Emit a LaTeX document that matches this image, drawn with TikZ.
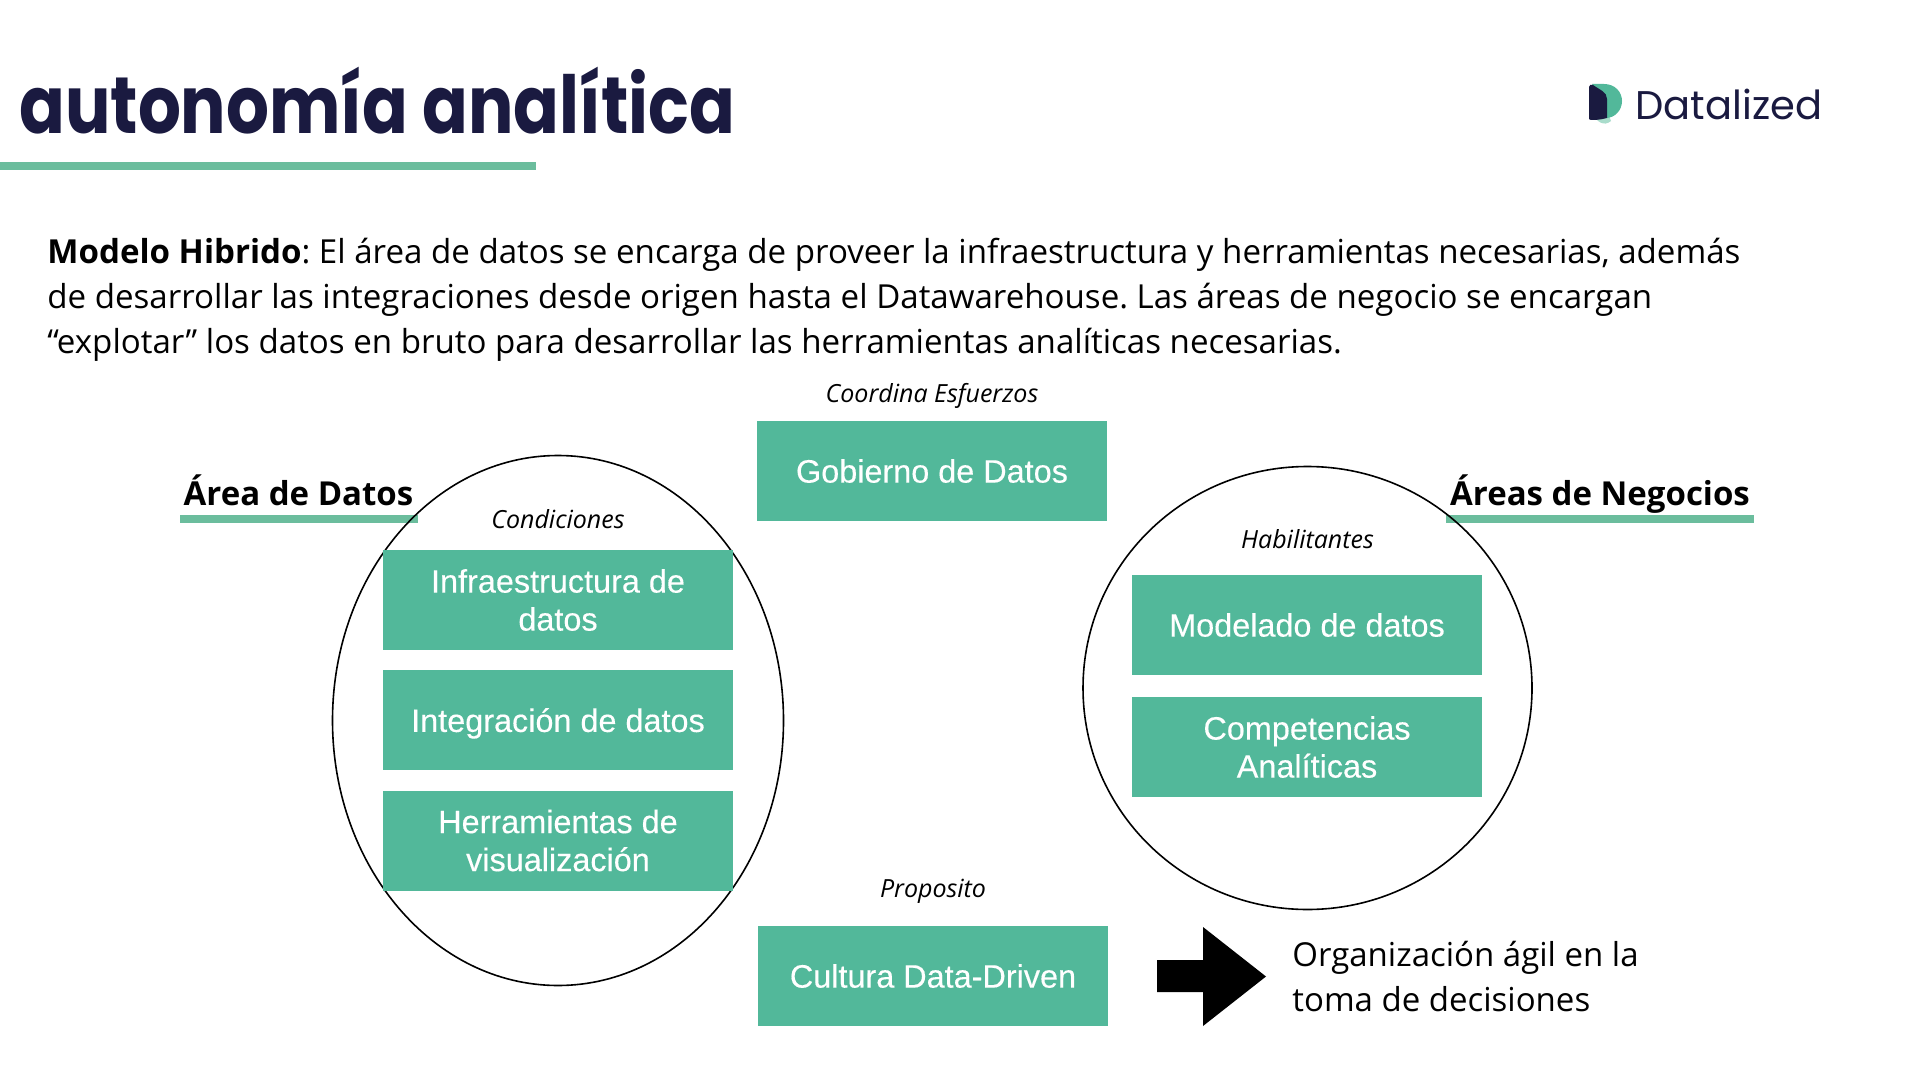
\documentclass[tikz,border=0pt]{standalone}
\usepackage{fontspec}
\usepackage{xcolor}
\setmainfont{Open Sans}
\newfontfamily\boxfont[FakeBold=0.25]{Liberation Sans}
\newfontfamily\brandfont{Poppins}
\newfontfamily\titlefont[FakeStretch=0.843]{Poppins}
\usetikzlibrary{
    positioning
}
\definecolor{verde}{HTML}{52B89A}
\definecolor{verdebar}{HTML}{6BBD9D}
\definecolor{verdeclaro}{HTML}{A9DCCB}
\definecolor{navy}{HTML}{1A1A40}
\newcommand{\boxtext}{\boxfont\fontsize{16.2}{19}\selectfont}
\newcommand{\notetext}{\fontsize{12.5}{15}\selectfont\itshape}
\tikzset{
    areabox/.style={fill=verde, text=white, minimum width=175pt, minimum height=50pt, inner sep=0pt, align=center, font=\boxtext},
    ring/.style={draw=black, line width=0.8pt},
    note/.style={inner sep=0pt, font=\notetext},
    bar/.style={fill=verdebar},
    areatitle/.style={anchor=base, inner sep=0pt, font=\fontsize{16.5}{20}\selectfont\bfseries}
}

\begin{document}
\frenchspacing
\begin{tikzpicture}[x=0.5pt, y=-0.5pt]
    \useasboundingbox (0, 0) rectangle (1920, 1080);

    % header
    \node[anchor=base west, inner sep=0pt, text=navy, font=\titlefont\fontsize{40}{44}\selectfont\bfseries] (titulo) at (19, 134) {autonomía analítica};
    \fill[bar] (0, 162) rectangle (536, 170);

    % logo
    \fill[verdeclaro] (1592, 112) .. controls (1596, 122) and (1604, 127) .. (1611, 121) -- (1606, 108) -- cycle;
    \fill[verde] (1592, 84) -- (1604, 84) .. controls (1615, 84) and (1622, 92) .. (1622, 101) .. controls (1622, 110) and (1615, 118) .. (1606, 118) -- (1600, 100) -- cycle;
    \fill[navy] (1589, 87) .. controls (1589, 85) and (1591, 84) .. (1593, 85) .. controls (1600, 90) and (1607, 92) .. (1607, 99) -- (1607, 118) .. controls (1600, 120) and (1594, 120) .. (1591, 120) .. controls (1589, 120) and (1589, 119) .. (1589, 117) -- cycle;
    \node[anchor=base west, inner sep=0pt, text=navy, font=\brandfont\fontsize{20}{24}\selectfont] (marca) at (1635, 120) {Datalized};

    % texto
    \node[anchor=north west, inner sep=0pt, align=left, font=\fontsize{16.54}{22.5}\selectfont] (intro) at (47, 238) {\textbf{Modelo Hibrido}: El área de datos se encarga de proveer la infraestructura y herramientas necesarias, además\\
    de desarrollar las integraciones desde origen hasta el Datawarehouse. Las áreas de negocio se encargan\\
    “explotar” los datos en bruto para desarrollar las herramientas analíticas necesarias.};

    % titulos de area
    \node[areatitle] (datos) at (298.5, 505) {Área de Datos};
    \fill[bar] (180, 515) rectangle (418, 523);
    \node[areatitle] (negocios) at (1600, 505) {Áreas de Negocios};
    \fill[bar] (1446, 515) rectangle (1754, 523);

    % circulos
    \draw[ring] (558, 720.5) ellipse [x radius=225.5, y radius=265];
    \draw[ring] (1307.5, 688) ellipse [x radius=224.5, y radius=221.5];

    % cajas
    \node[note] (coordina) at (932, 396) {Coordina Esfuerzos};
    \node[areabox] (gobierno) at (932, 471) {Gobierno de Datos};

    \node[note] (condiciones) at (558, 519) {Condiciones};
    \node[areabox] (infra) at (558, 600) {Infraestructura de\\datos};
    \node[areabox, text depth=0pt] (integracion) at (558, 720) {Integración de datos};
    \node[areabox] (visual) at (558, 840.5) {Herramientas de\\visualización};

    \node[note] (habilitantes) at (1307.5, 539) {Habilitantes};
    \node[areabox] (modelado) at (1307, 625) {Modelado de datos};
    \node[areabox] (competencias) at (1307, 747) {Competencias\\Analíticas};

    \node[note] (proposito) at (933, 891) {Proposito};
    \node[areabox] (cultura) at (933, 976) {Cultura Data-Driven};

    % flecha
    \fill[black] (1157, 960) -- (1203, 960) -- (1203, 927) -- (1266, 976.5) -- (1203, 1026) -- (1203, 992) -- (1157, 992) -- cycle;
    \node[anchor=west, inner sep=0pt, align=left, font=\fontsize{16.5}{22.5}\selectfont] (agil) at (1292, 977) {Organización ágil en la\\toma de decisiones};
\end{tikzpicture}
\end{document}
